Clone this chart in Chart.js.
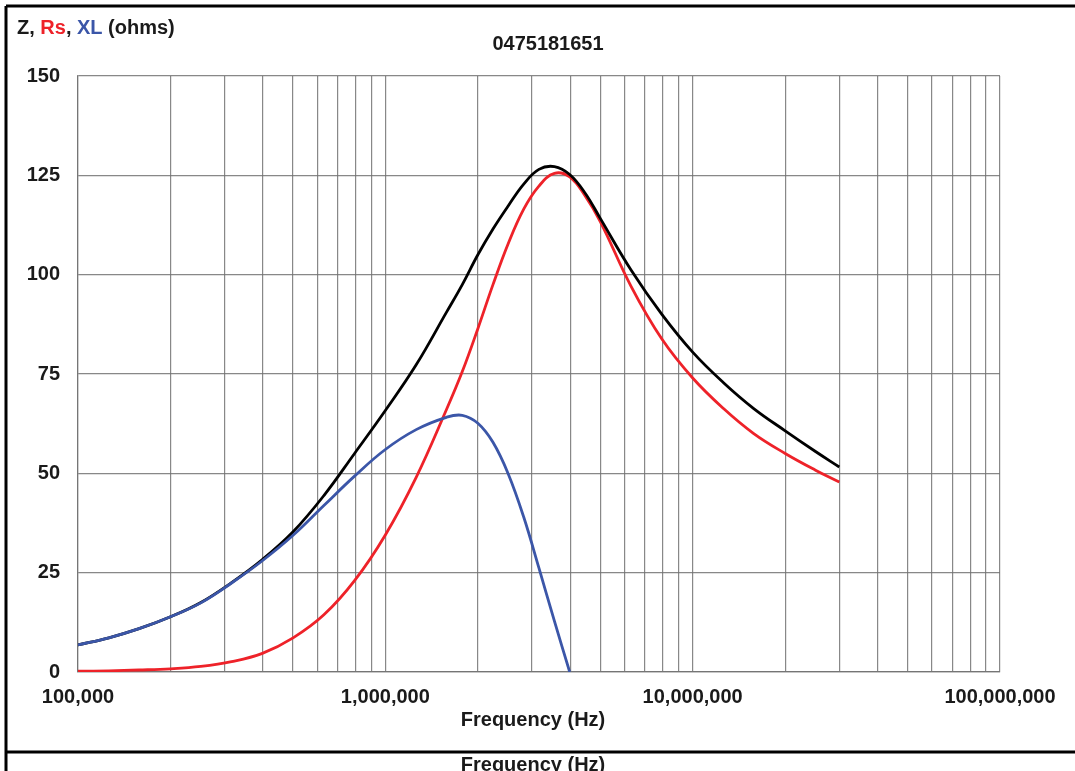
<!DOCTYPE html>
<html>
<head>
<meta charset="utf-8">
<script src="https://cdn.jsdelivr.net/npm/chart.js@4/dist/chart.umd.min.js"></script>
<style>
  body { margin: 0; background: #fff; }
  #wrap { width: 1075px; height: 771px; }
</style>
</head>
<body>
<div id="wrap"><canvas id="lineChart" width="1075" height="771"></canvas></div>
<script>
// frekuensi (Hz) dan nilai impedansi yang dibaca dari grafik
const frequencies = [1e5, 1.26e5, 1.58e5, 2e5, 2.51e5, 3.16e5, 3.98e5, 5.01e5, 6.31e5, 7.94e5,
                     1e6, 1.26e6, 1.58e6, 1.78e6, 2e6, 2.24e6, 2.51e6, 2.82e6, 3.16e6, 3.55e6, 3.98e6, 4.47e6, 5.01e6, 6.31e6, 7.94e6,
                     1e7, 1.26e7, 1.58e7, 2e7, 2.51e7, 3e7];
const zValues  = [6.8, 8.6, 10.9, 13.9, 17.5, 22.5, 28.3, 35.3, 44.4, 55.0,
                  65.8, 77.3, 90.5, 97.5, 105.0, 111.5, 117.3, 122.8, 126.5, 127.2, 125.2, 120.5, 114.1, 101.1, 90.0,
                  80.5, 72.8, 66.3, 60.7, 55.5, 51.6];
const rsValues = [0.2, 0.3, 0.5, 0.8, 1.4, 2.6, 4.7, 8.6, 14.4, 23.0,
                  34.5, 49.0, 66.0, 75.6, 86.4, 97.5, 107.8, 116.5, 122.3, 125.5, 124.6, 119.8, 113.3, 97.0, 83.8,
                  74.0, 66.3, 60.0, 55.0, 50.8, 47.8];
const xlValues = [6.8, 8.6, 10.9, 13.9, 17.4, 22.4, 28.0, 34.4, 41.9, 49.3,
                  56.0, 61.0, 64.1, 64.6, 62.6, 57.8, 49.9, 39.0, 26.2, 12.8, 0, null, null, null, null,
                  null, null, null, null, null, null];

const xDecades = [1e5, 1e6, 1e7, 1e8];
const xTickLabels = ['100,000', '1,000,000', '10,000,000', '100,000,000'];
const yTicks = [0, 25, 50, 75, 100, 125, 150];

const chartTitle = '0475181651';
const xTitle = 'Frequency (Hz)';

const FONT = "'Liberation Sans', Arial, sans-serif";
const gridColor = 'rgba(115,115,115,0.85)';

// garis grid: 1..9 pada tiap dekade
const gridValues = [];
xDecades.slice(0, 3).forEach(d => { for (let m = 1; m <= 9; m++) gridValues.push(d * m); });
gridValues.push(1e8);

function toPoints(values) {
    return frequencies.map((f, i) => ({ x: f, y: values[i] }));
}

// plugin untuk teks dan bingkai
const decorPlugin = {
    id: 'decor',
    afterDraw(chart) {
        const ctx = chart.ctx;
        ctx.save();
        ctx.strokeStyle = '#000';
        ctx.lineWidth = 3;
        ctx.beginPath();
        ctx.moveTo(6, 6); ctx.lineTo(1075, 6);
        ctx.moveTo(6, 6); ctx.lineTo(6, 771);
        ctx.moveTo(6, 752); ctx.lineTo(1075, 752);
        ctx.stroke();

        ctx.font = 'bold 20px ' + FONT;
        ctx.textBaseline = 'middle';
        ctx.textAlign = 'center';
        ctx.fillStyle = '#1a1a1a';
        ctx.fillText(chartTitle, 548, 44);
        ctx.fillText(xTitle, 533, 720);
        ctx.fillText(xTitle, 533, 765);

        // label sumbu y berwarna
        const parts = [['Z, ', '#1a1a1a'], ['Rs', '#ee2229'], [', ', '#1a1a1a'], ['XL', '#3b56a8'], [' (ohms)', '#1a1a1a']];
        let x = 17;
        ctx.textAlign = 'left';
        parts.forEach(([t, c]) => {
            ctx.fillStyle = c;
            ctx.fillText(t, x, 28);
            x += ctx.measureText(t).width;
        });
        ctx.restore();
    }
};

const ctx = document.getElementById('lineChart').getContext('2d');
const lineChart = new Chart(ctx, {
    type: 'line',
    data: {
        datasets: [
            { label: 'XL', data: toPoints(xlValues), borderColor: '#3b56a8', order: 0 },
            { label: 'Z', data: toPoints(zValues), borderColor: '#000000', order: 1 },
            { label: 'Rs', data: toPoints(rsValues), borderColor: '#ee2229', order: 2 }
        ]
    },
    options: {
        responsive: false,
        animation: false,
        devicePixelRatio: 1,
        layout: { padding: { left: 0, top: 76, right: 75, bottom: 0 } },
        elements: {
            line: { borderWidth: 2.8, tension: 0.4, fill: false },
            point: { radius: 0 }
        },
        spanGaps: false,
        scales: {
            x: {
                type: 'logarithmic',
                min: 1e5,
                max: 1e8,
                afterFit: scale => { scale.height = 99; },
                afterBuildTicks: scale => { scale.ticks = gridValues.map(v => ({ value: v })); },
                grid: { color: gridColor, lineWidth: 1.2, drawTicks: false },
                border: { color: gridColor, width: 1.2 },
                ticks: {
                    autoSkip: false,
                    maxRotation: 0,
                    padding: 13,
                    color: '#1a1a1a',
                    font: { family: FONT, size: 20, weight: 'bold' },
                    callback: function(value) {
                        const idx = xDecades.indexOf(value);
                        return idx >= 0 ? xTickLabels[idx] : '';
                    }
                }
            },
            y: {
                min: 0,
                max: 150,
                afterFit: scale => { scale.width = 78; },
                afterBuildTicks: scale => { scale.ticks = yTicks.map(v => ({ value: v })); },
                grid: { color: gridColor, lineWidth: 1.2, drawTicks: false },
                border: { color: gridColor, width: 1.2 },
                ticks: {
                    padding: 18,
                    color: '#1a1a1a',
                    font: { family: FONT, size: 20, weight: 'bold' }
                }
            }
        },
        plugins: {
            legend: { display: false },
            title: { display: false },
            tooltip: { enabled: false }
        }
    },
    plugins: [decorPlugin]
});
</script>
</body>
</html>
